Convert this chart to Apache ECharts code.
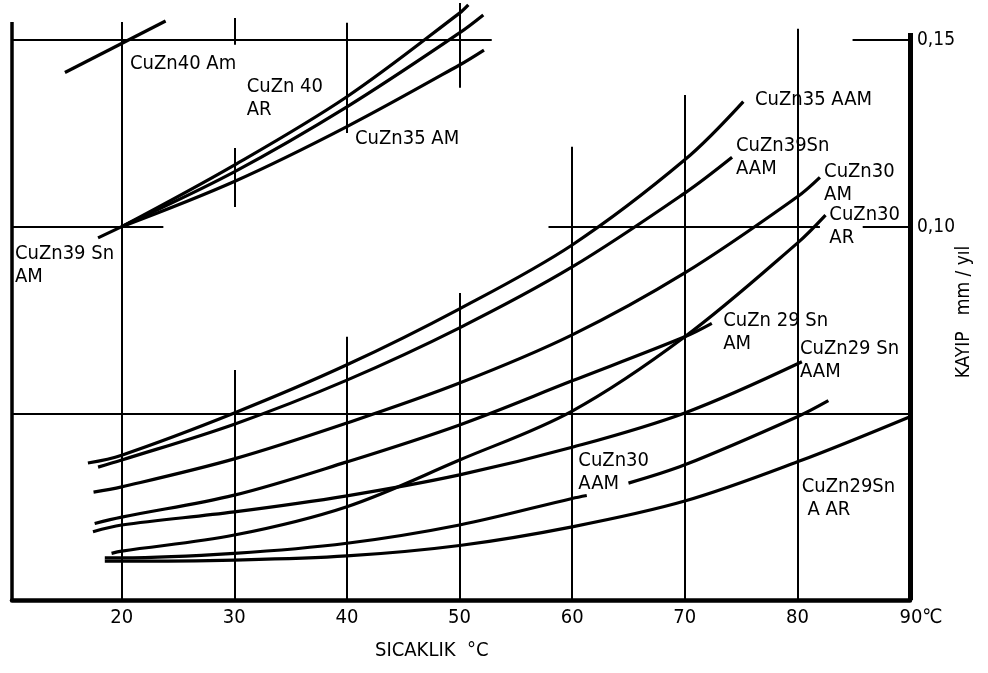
<!DOCTYPE html>
<html><head><meta charset="utf-8">
<script src="https://cdn.jsdelivr.net/npm/echarts@6/dist/echarts.min.js"></script>
<style>html,body{margin:0;padding:0;background:#fff}#c{width:988px;height:673px}</style>
</head><body><div id="c"></div>
<script>
// ---- tick labels ----
const xTicks = [20, 30, 40, 50, 60, 70, 80, 90];
const yTicks = [0.10, 0.15];

// ---- curves: [temperature °C, loss mm/yıl] ----
const cuzn40Am    = [[14.96,0.1413],[23.9,0.1551]];
const cuzn40AR    = [[20,0.1000],[30,0.1165],[40,0.1348],[50,0.1572],[50.78,0.1594]];
const cuzn39SnAM  = [[17.9,0.0970],[20,0.1000],[30,0.1147],[40,0.1321],[50,0.1519],[52.11,0.1567]];
const cuzn35AM    = [[20,0.1000],[30,0.1121],[40,0.1268],[50,0.1433],[52.17,0.1473]];
const cuzn35AAM   = [[17.0,0.0367],[20,0.0388],[30,0.0501],[40,0.0630],[50,0.0780],[60,0.0951],[70,0.1179],[75.2,0.1335]];
const cuzn39SnAAM = [[17.9,0.0356],[20,0.0375],[30,0.0471],[40,0.0589],[50,0.0729],[60,0.0892],[70,0.1090],[74.2,0.1186]];
const cuzn30AM    = [[17.5,0.0289],[20,0.0303],[30,0.0378],[40,0.0474],[50,0.0581],[60,0.0710],[70,0.0876],[80,0.1080],[82.0,0.1132]];
const cuzn29SnAM  = [[17.6,0.0205],[20,0.0222],[30,0.0281],[40,0.0370],[50,0.0469],[60,0.0587],[70,0.0705],[72.4,0.0741]];
const cuzn29SnAAM = [[17.45,0.0183],[20,0.0201],[30,0.0236],[40,0.0279],[50,0.0335],[60,0.0409],[70,0.0501],[80.4,0.0638]];
const cuzn30AR    = [[19.1,0.0125],[20,0.0131],[30,0.0174],[40,0.0250],[50,0.0375],[60,0.0506],[70,0.0705],[80,0.0956],[82.5,0.1031]];
const cuzn30AAM_1 = [[18.5,0.0113],[20,0.0113],[30,0.0125],[40,0.0152],[50,0.0201],[60,0.0272],[61.3,0.0280]];
const cuzn30AAM_2 = [[65.0,0.0313],[70,0.0362],[80,0.0491],[82.75,0.0534]];
const cuzn29SnAAR = [[18.5,0.0104],[20,0.0104],[30,0.0107],[40,0.0118],[50,0.0146],[60,0.0196],[70,0.0265],[80,0.0370],[90,0.0491]];

const curves = [
  ['CuZn40 Am', cuzn40Am], ['CuZn40 AR', cuzn40AR], ['CuZn39Sn AM', cuzn39SnAM], ['CuZn35 AM', cuzn35AM],
  ['CuZn35 AAM', cuzn35AAM], ['CuZn39Sn AAM', cuzn39SnAAM], ['CuZn30 AM', cuzn30AM], ['CuZn29Sn AM', cuzn29SnAM],
  ['CuZn29Sn AAM', cuzn29SnAAM], ['CuZn30 AR', cuzn30AR], ['CuZn30 AAM', cuzn30AAM_1], ['CuZn30 AAM', cuzn30AAM_2],
  ['CuZn29Sn AAR', cuzn29SnAAR]
];

// ---- annotation texts and their anchor (top-left) in data units ----
const labelTexts = ['CuZn40 Am', 'CuZn 40\nAR', 'CuZn35 AM', 'CuZn39 Sn\nAM', 'CuZn35 AAM', 'CuZn39Sn\nAAM',
  'CuZn30\nAM', 'CuZn30\nAR', 'CuZn 29 Sn\nAM', 'CuZn29 Sn\nAAM', 'CuZn30\nAAM', 'CuZn29Sn\n A AR'];
const labelAt = [[20.74,0.1468],[31.10,0.1405],[40.72,0.1267],[10.52,0.0959],[76.24,0.1370],[74.55,0.1247],
  [82.37,0.1178],[82.84,0.1062],[73.42,0.0780],[80.23,0.0704],[60.55,0.0405],[80.39,0.0334]];

// ---- partial grid of the original drawing (data units) ----
const gridVertical = [[20,0,0.1548],[30,0,0.0616],[30,0.1053,0.1211],[30,0.1487,0.1559],[40,0,0.0705],[40,0.1251,0.1546],
  [50,0,0.0822],[50,0.1372,0.1599],[60,0,0.1214],[70,0,0.1353],[80,0,0.1530]];
const gridHorizontal = [[0.15,10.26,52.86],[0.15,84.9,90],[0.10,10.26,23.7],[0.10,57.9,82.0],[0.10,85.8,90],[0.05,10.26,90]];
const frameLeft = [10.26, 0, 0.1548];
const frameRight = [90, 0, 0.1519];

const FONT = '"DejaVu Sans Condensed","Liberation Sans Narrow","Roboto Condensed","DejaVu Sans",sans-serif';
const X_MIN = 10.26, X_MAX = 90, Y_MAX = 0.16;

const chart = echarts.init(document.getElementById('c'), null, {renderer: 'canvas'});

const gridLines = [];
gridVertical.forEach(s => gridLines.push([{coord:[s[0], s[1]]}, {coord:[s[0], s[2]]}]));
gridHorizontal.forEach(s => gridLines.push([{coord:[s[1], s[0]]}, {coord:[s[2], s[0]]}]));

const series = [
  {type:'line', data:[], z:1, silent:true, markLine:{silent:true, symbol:['none','none'], label:{show:false},
    lineStyle:{color:'#000', width:2, type:'solid'}, data:gridLines, animation:false}},
  {type:'line', data:[], z:2, silent:true, markLine:{silent:true, symbol:['none','none'], label:{show:false},
    lineStyle:{color:'#000', width:3.5, type:'solid'}, data:[[{coord:[frameLeft[0],frameLeft[1]]},{coord:[frameLeft[0],frameLeft[2]]}]], animation:false}},
  {type:'line', data:[], z:2, silent:true, markLine:{silent:true, symbol:['none','none'], label:{show:false},
    lineStyle:{color:'#000', width:5, type:'solid'}, data:[[{coord:[frameRight[0],frameRight[1]]},{coord:[frameRight[0],frameRight[2]]}]], animation:false}}
];
curves.forEach(c => series.push({
  name:c[0], type:'line', data:c[1], showSymbol:false, symbol:'none', smooth:0.35,
  lineStyle:{color:'#000', width:3.2}, z:5, clip:false
}));
series.push({
  type:'scatter', symbolSize:0, z:6, silent:true, clip:false, itemStyle:{opacity:1},
  data: labelAt,
  label:{show:true, position:[0,0], align:'left', verticalAlign:'top', color:'#000', opacity:1, fontFamily:FONT, fontSize:20, lineHeight:23,
    formatter: p => labelTexts[p.dataIndex]}
});

chart.setOption({
  animation:false,
  backgroundColor:'#fff',
  grid:{left:12, right:78, top:600 - Y_MAX*3733.3, bottom:73, containLabel:false},
  xAxis:{type:'value', min:X_MIN, max:X_MAX,
    axisLine:{show:true, lineStyle:{color:'#000', width:4.5}},
    axisTick:{show:false}, splitLine:{show:false},
    axisLabel:{show:true, customValues:xTicks, color:'#000', fontFamily:FONT, fontSize:20, margin:8,
      formatter: v => v === 90 ? '{e|90℃}' : String(v),
      rich:{e:{color:'#000', fontFamily:FONT, fontSize:20, padding:[0,0,0,22]}}}
  },
  yAxis:{type:'value', position:'right', min:0, max:Y_MAX,
    axisLine:{show:false}, axisTick:{show:false}, splitLine:{show:false},
    axisLabel:{show:true, customValues:yTicks, color:'#000', fontFamily:FONT, fontSize:19, margin:7,
      formatter: v => v.toFixed(2).replace('.', ',')}
  },
  graphic:[
    {type:'text', left:375, top:641, style:{text:'SICAKLIK  °C', font:'20px ' + FONT, fill:'#000'}},
    {type:'text', x:964, y:312, rotation:Math.PI/2,
      style:{text:'KAYIP   mm / yıl', font:'19px ' + FONT, fill:'#000', align:'center', verticalAlign:'middle'}}
  ],
  series: series
});
</script></body></html>
